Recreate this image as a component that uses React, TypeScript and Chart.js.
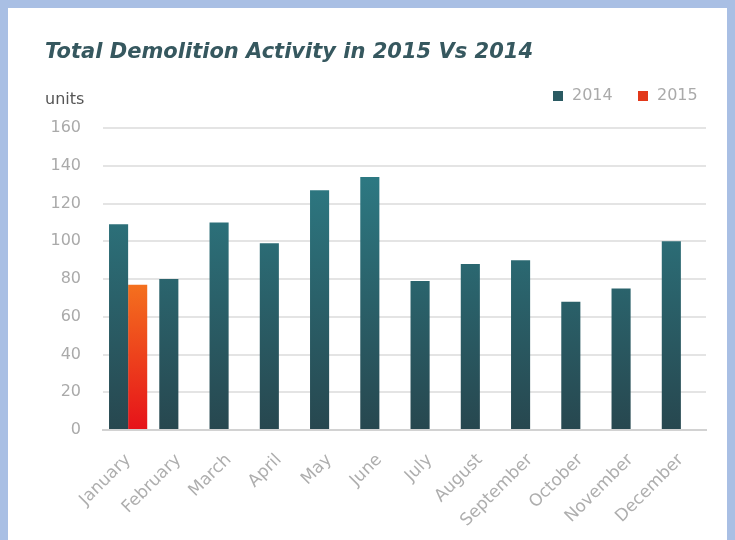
import React, { useEffect, useRef } from "react";
import { Chart, registerables } from "chart.js";

Chart.register(...registerables);

const months = ["January", "February", "March", "April", "May", "June", "July", "August", "September", "October", "November", "December"];
const values2014 = [109, 80, 110, 99, 127, 134, 79, 88, 90, 68, 75, 100];
const values2015 = [77, null, null, null, null, null, null, null, null, null, null, null];
const seriesNames = ["2014", "2015"];
const yTicks = { min: 0, max: 160, step: 20 };
const titleText = "Total Demolition Activity in 2015 Vs 2014";
const unitText = "units";

const FONT = "'DejaVu Sans', 'Open Sans', sans-serif";
const TEAL_TOP = "#2e828c";
const TEAL_BOT = "#27474f";
const RED_TOP = "#f4701e";
const RED_BOT = "#e6121a";

function makeGrad(ctx: CanvasRenderingContext2D, area: any, top: string, bottom: string) {
  const g = ctx.createLinearGradient(0, area.top, 0, area.bottom);
  g.addColorStop(0, top);
  g.addColorStop(1, bottom);
  return g;
}

const decorPlugin = {
  id: "decor",
  afterDraw(chart: any) {
    const { ctx } = chart;
    ctx.save();
    ctx.font = `italic bold 21px ${FONT}`;
    ctx.fillStyle = "#36585f";
    ctx.textBaseline = "middle";
    ctx.textAlign = "left";
    ctx.fillText(titleText, 37, 45);
    ctx.font = `16px ${FONT}`;
    ctx.fillStyle = "#555";
    ctx.fillText(unitText, 37, 92);
    ctx.font = `16px ${FONT}`;
    const items = [
      { text: seriesNames[0], color: "#2a5a62", x: 545 },
      { text: seriesNames[1], color: "#e2381a", x: 630 },
    ];
    for (const it of items) {
      ctx.fillStyle = it.color;
      ctx.fillRect(it.x, 83, 10, 10);
      ctx.fillStyle = "#aaa";
      ctx.fillText(it.text, it.x + 19, 88);
    }
    ctx.restore();
  },
};

export default function App() {
  const ref = useRef<HTMLCanvasElement>(null);
  useEffect(() => {
    document.body.style.margin = "0";
    const canvas = ref.current!;
    const chart = new Chart(canvas, {
      type: "bar",
      data: {
        labels: months,
        datasets: [
          {
            label: seriesNames[0],
            data: values2014,
            backgroundColor: (c: any) => {
              const area = c.chart.chartArea;
              if (!area) return TEAL_TOP;
              return makeGrad(c.chart.ctx, area, TEAL_TOP, TEAL_BOT);
            },
            borderWidth: 0,
          },
          {
            label: seriesNames[1],
            data: values2015 as any,
            backgroundColor: (c: any) => {
              const area = c.chart.chartArea;
              if (!area) return RED_TOP;
              const v = c.raw ?? 0;
              const g = c.chart.ctx.createLinearGradient(0, c.chart.scales.y.getPixelForValue(v), 0, area.bottom);
              g.addColorStop(0, RED_TOP);
              g.addColorStop(1, RED_BOT);
              return g;
            },
            borderWidth: 0,
          },
        ],
      },
      options: {
        animation: false,
        responsive: false,
        maintainAspectRatio: false,
        layout: { padding: { left: 0, right: 21, top: 120, bottom: 0 } },
        datasets: { bar: { categoryPercentage: 0.76, barPercentage: 1.0 } },
        plugins: {
          title: { display: false },
          legend: { display: false },
          tooltip: { enabled: false },
        },
        scales: {
          x: {
            grid: { display: false },
            border: { display: true, color: "#d2d2d2", width: 2 },
            afterFit: (s: any) => {
              s.height = 110;
            },
            ticks: {
              color: "#aeaeae",
              font: { family: FONT, size: 17 },
              maxRotation: 45,
              minRotation: 45,
              padding: 12,
            },
          },
          y: {
            min: yTicks.min,
            max: yTicks.max,
            afterFit: (s: any) => {
              s.width = 95;
            },
            ticks: {
              stepSize: yTicks.step,
              color: "#aaa",
              font: { family: FONT, size: 16 },
              padding: 22,
            },
            grid: { color: "#e4e4e4", lineWidth: 2, drawTicks: false },
            border: { display: false },
          },
        },
      },
      plugins: [decorPlugin],
    });
    return () => chart.destroy();
  }, []);
  return (
    <div
      style={{
        position: "absolute",
        left: 0,
        top: 0,
        width: 735,
        height: 560,
        boxSizing: "border-box",
        border: "8px solid #a9bfe4",
        background: "#fff",
      }}
    >
      <canvas ref={ref} width={719} height={532} style={{ display: "block" }} />
    </div>
  );
}
